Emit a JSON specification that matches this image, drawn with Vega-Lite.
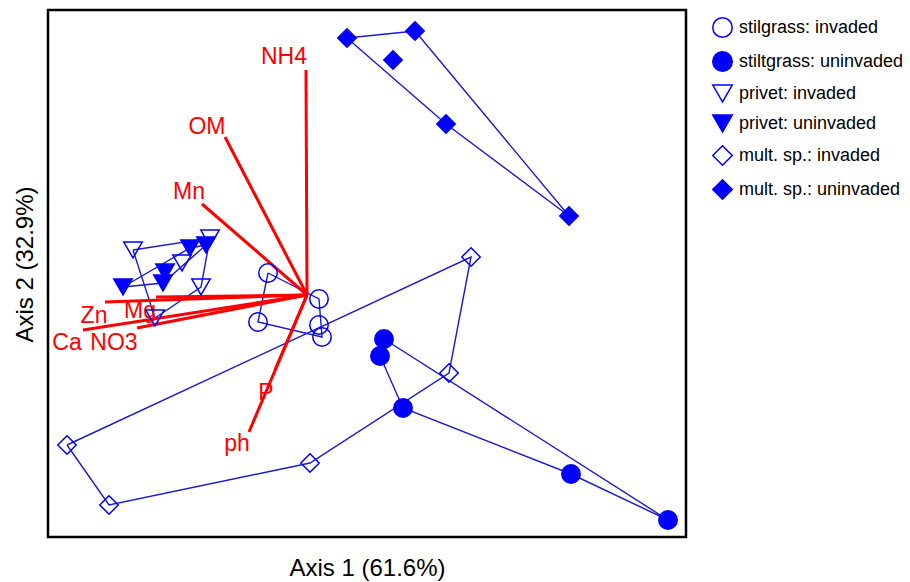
{
  "$schema": "https://vega.github.io/schema/vega-lite/v6.json",
  "width": 638,
  "height": 527,
  "autosize": "none",
  "padding": {"left": 48, "top": 10, "right": 224, "bottom": 45},
  "background": "white",
  "config": {
    "view": {"stroke": "black", "strokeWidth": 2.5},
    "font": "Liberation Sans",
    "legend": {
      "title": null, "orient": "none", "legendX": 664, "legendY": 7, "padding": 0,
      "symbolSize": 380, "symbolStrokeWidth": 1.5,
      "labelFontSize": 18, "labelOffset": 6, "rowPadding": 7, "labelColor": "black", "labelFont": "Liberation Sans", "labelLimit": 300
    }
  },
  "datasets": {
    "points": [
      {"group": "stilgrass: invaded", "x": 268, "y": 273},
      {"group": "stilgrass: invaded", "x": 319, "y": 299},
      {"group": "stilgrass: invaded", "x": 258, "y": 322},
      {"group": "stilgrass: invaded", "x": 319, "y": 325},
      {"group": "stilgrass: invaded", "x": 322, "y": 337},
      {"group": "stiltgrass: uninvaded", "x": 384, "y": 339},
      {"group": "stiltgrass: uninvaded", "x": 380, "y": 356},
      {"group": "stiltgrass: uninvaded", "x": 403, "y": 408},
      {"group": "stiltgrass: uninvaded", "x": 571, "y": 474},
      {"group": "stiltgrass: uninvaded", "x": 668, "y": 520},
      {"group": "privet: invaded", "x": 133, "y": 250},
      {"group": "privet: invaded", "x": 210, "y": 238},
      {"group": "privet: invaded", "x": 182, "y": 263},
      {"group": "privet: invaded", "x": 201, "y": 287},
      {"group": "privet: invaded", "x": 155, "y": 318},
      {"group": "privet: uninvaded", "x": 123, "y": 287},
      {"group": "privet: uninvaded", "x": 165, "y": 272},
      {"group": "privet: uninvaded", "x": 163, "y": 283},
      {"group": "privet: uninvaded", "x": 190, "y": 248},
      {"group": "privet: uninvaded", "x": 206, "y": 245},
      {"group": "mult. sp.: invaded", "x": 471, "y": 257},
      {"group": "mult. sp.: invaded", "x": 67, "y": 445},
      {"group": "mult. sp.: invaded", "x": 109, "y": 505},
      {"group": "mult. sp.: invaded", "x": 310, "y": 463},
      {"group": "mult. sp.: invaded", "x": 449, "y": 373},
      {"group": "mult. sp.: uninvaded", "x": 347, "y": 38},
      {"group": "mult. sp.: uninvaded", "x": 415, "y": 31},
      {"group": "mult. sp.: uninvaded", "x": 393, "y": 60},
      {"group": "mult. sp.: uninvaded", "x": 446, "y": 124},
      {"group": "mult. sp.: uninvaded", "x": 569, "y": 216}
    ],
    "hulls": [
      {"group": "stilgrass: invaded", "k": 1, "x": 268, "y": 273},
      {"group": "stilgrass: invaded", "k": 2, "x": 319, "y": 299},
      {"group": "stilgrass: invaded", "k": 3, "x": 322, "y": 337},
      {"group": "stilgrass: invaded", "k": 4, "x": 258, "y": 322},
      {"group": "stilgrass: invaded", "k": 5, "x": 268, "y": 273},
      {"group": "stiltgrass: uninvaded", "k": 1, "x": 384, "y": 339},
      {"group": "stiltgrass: uninvaded", "k": 2, "x": 668, "y": 520},
      {"group": "stiltgrass: uninvaded", "k": 3, "x": 571, "y": 474},
      {"group": "stiltgrass: uninvaded", "k": 4, "x": 403, "y": 408},
      {"group": "stiltgrass: uninvaded", "k": 5, "x": 380, "y": 356},
      {"group": "stiltgrass: uninvaded", "k": 6, "x": 384, "y": 339},
      {"group": "privet: invaded", "k": 1, "x": 133, "y": 250},
      {"group": "privet: invaded", "k": 2, "x": 210, "y": 238},
      {"group": "privet: invaded", "k": 3, "x": 201, "y": 287},
      {"group": "privet: invaded", "k": 4, "x": 155, "y": 318},
      {"group": "privet: invaded", "k": 5, "x": 133, "y": 250},
      {"group": "privet: uninvaded", "k": 1, "x": 123, "y": 287},
      {"group": "privet: uninvaded", "k": 2, "x": 190, "y": 248},
      {"group": "privet: uninvaded", "k": 3, "x": 206, "y": 245},
      {"group": "privet: uninvaded", "k": 4, "x": 163, "y": 283},
      {"group": "privet: uninvaded", "k": 5, "x": 123, "y": 287},
      {"group": "mult. sp.: invaded", "k": 1, "x": 67, "y": 445},
      {"group": "mult. sp.: invaded", "k": 2, "x": 471, "y": 257},
      {"group": "mult. sp.: invaded", "k": 3, "x": 449, "y": 373},
      {"group": "mult. sp.: invaded", "k": 4, "x": 310, "y": 463},
      {"group": "mult. sp.: invaded", "k": 5, "x": 109, "y": 505},
      {"group": "mult. sp.: invaded", "k": 6, "x": 67, "y": 445},
      {"group": "mult. sp.: uninvaded", "k": 1, "x": 347, "y": 38},
      {"group": "mult. sp.: uninvaded", "k": 2, "x": 415, "y": 31},
      {"group": "mult. sp.: uninvaded", "k": 3, "x": 569, "y": 216},
      {"group": "mult. sp.: uninvaded", "k": 4, "x": 446, "y": 124},
      {"group": "mult. sp.: uninvaded", "k": 5, "x": 347, "y": 38}
    ],
    "vectors": [
      {"var": "NH4", "ox": 307, "oy": 295, "x": 306, "y": 70},
      {"var": "OM", "ox": 307, "oy": 295, "x": 225, "y": 137},
      {"var": "Mn", "ox": 307, "oy": 295, "x": 202, "y": 204},
      {"var": "Zn", "ox": 307, "oy": 295, "x": 105, "y": 302},
      {"var": "Mg", "ox": 307, "oy": 295, "x": 156, "y": 297},
      {"var": "Ca", "ox": 307, "oy": 295, "x": 83, "y": 330},
      {"var": "NO3", "ox": 307, "oy": 295, "x": 137, "y": 328},
      {"var": "P", "ox": 307, "oy": 295, "x": 275, "y": 370},
      {"var": "ph", "ox": 307, "oy": 295, "x": 249, "y": 432}
    ],
    "labels": [
      {"label": "NH4", "x": 284, "y": 64},
      {"label": "OM", "x": 207, "y": 134},
      {"label": "Mn", "x": 189, "y": 199},
      {"label": "Zn", "x": 94, "y": 323},
      {"label": "Mg", "x": 140, "y": 318},
      {"label": "Ca", "x": 67, "y": 350},
      {"label": "NO3", "x": 114, "y": 350},
      {"label": "P", "x": 266, "y": 400},
      {"label": "ph", "x": 237, "y": 451}
    ]
  },
  "layer": [
    {
      "data": {"name": "hulls"},
      "mark": {"type": "line", "color": "#1a1acd", "strokeWidth": 1.4},
      "encoding": {
        "x": {
          "field": "x", "type": "quantitative",
          "scale": {"domain": [48, 686], "nice": false, "zero": false},
          "axis": {
            "title": "Axis 1 (61.6%)", "ticks": false, "labels": false, "domain": false, "grid": false,
            "titleFontSize": 24, "titleFontWeight": "normal", "titleColor": "black",
            "titleX": 319, "titleY": 38, "titleAlign": "center", "titleBaseline": "alphabetic",
            "titleFont": "Liberation Sans"
          }
        },
        "y": {
          "field": "y", "type": "quantitative",
          "scale": {"domain": [10, 537], "nice": false, "zero": false, "reverse": true},
          "axis": {
            "title": "Axis 2 (32.9%)", "ticks": false, "labels": false, "domain": false, "grid": false,
            "titleFontSize": 24, "titleFontWeight": "normal", "titleColor": "black",
            "titleX": -16, "titleY": 254, "titleAngle": -90, "titleAlign": "center", "titleBaseline": "alphabetic",
            "titleFont": "Liberation Sans"
          }
        },
        "detail": {"field": "group", "type": "nominal"},
        "order": {"field": "k", "type": "quantitative"}
      }
    },
    {
      "data": {"name": "vectors"},
      "mark": {"type": "rule", "color": "#ff0000", "strokeWidth": 3},
      "encoding": {
        "x": {"field": "x", "type": "quantitative"},
        "y": {"field": "y", "type": "quantitative"},
        "x2": {"field": "ox"},
        "y2": {"field": "oy"}
      }
    },
    {
      "data": {"name": "labels"},
      "mark": {"type": "text", "color": "#ff0000", "fontSize": 23, "align": "center", "baseline": "alphabetic", "font": "Liberation Sans"},
      "encoding": {
        "x": {"field": "x", "type": "quantitative"},
        "y": {"field": "y", "type": "quantitative"},
        "text": {"field": "label", "type": "nominal"}
      }
    },
    {
      "data": {"name": "points"},
      "mark": {"type": "point", "filled": true, "strokeWidth": 1.5, "opacity": 1, "size": 340},
      "encoding": {
        "x": {"field": "x", "type": "quantitative"},
        "y": {"field": "y", "type": "quantitative"},
        "shape": {
          "field": "group", "type": "nominal",
          "scale": {
            "domain": ["stilgrass: invaded", "stiltgrass: uninvaded", "privet: invaded", "privet: uninvaded", "mult. sp.: invaded", "mult. sp.: uninvaded"],
            "range": ["circle", "circle", "triangle-down", "triangle-down", "diamond", "diamond"]
          }
        },
        "fill": {
          "field": "group", "type": "nominal",
          "scale": {
            "domain": ["stilgrass: invaded", "stiltgrass: uninvaded", "privet: invaded", "privet: uninvaded", "mult. sp.: invaded", "mult. sp.: uninvaded"],
            "range": ["transparent", "#0000ff", "transparent", "#0000ff", "transparent", "#0000ff"]
          }
        },
        "stroke": {
          "field": "group", "type": "nominal",
          "scale": {
            "domain": ["stilgrass: invaded", "stiltgrass: uninvaded", "privet: invaded", "privet: uninvaded", "mult. sp.: invaded", "mult. sp.: uninvaded"],
            "range": ["#0000ff", "#0000ff", "#0000ff", "#0000ff", "#0000ff", "#0000ff"]
          }
        }
      }
    }
  ]
}
